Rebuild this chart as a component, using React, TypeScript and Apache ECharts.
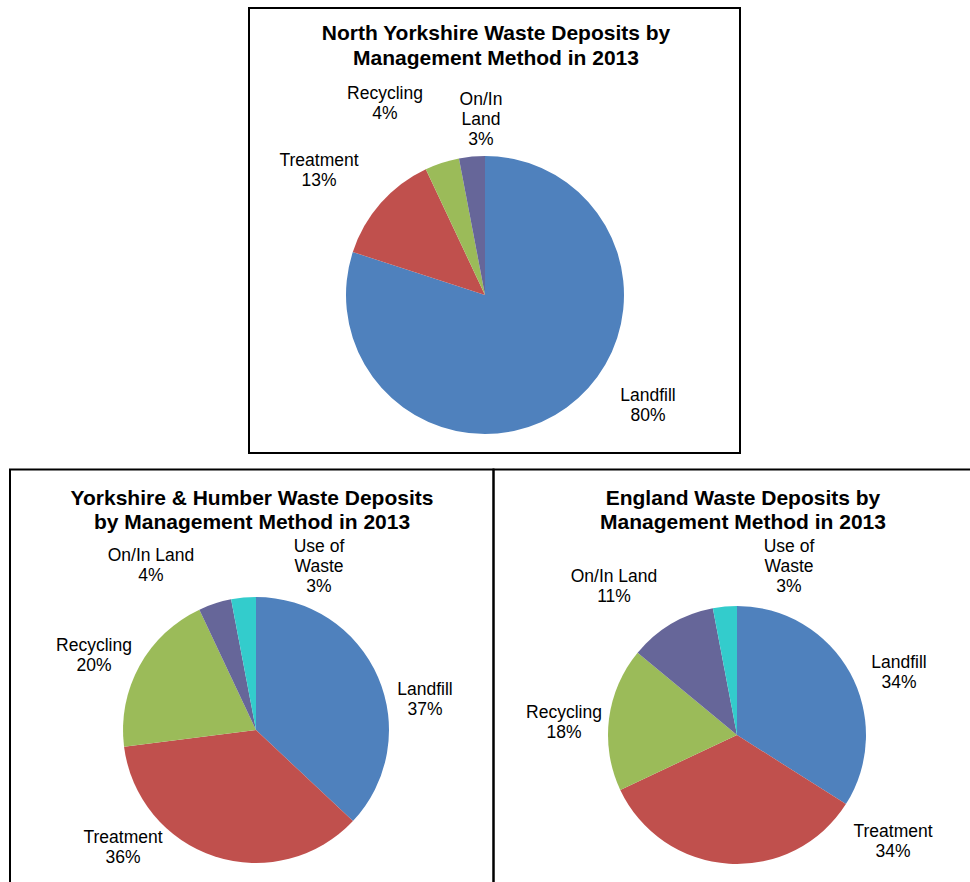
import React, { useEffect, useRef } from "react";
import * as echarts from "echarts";

// ---- Data ----
const northYorkshireCategories = ["Landfill", "Treatment", "Recycling", "On/In Land"];
const northYorkshireValues = [80, 13, 4, 3];

const yorkshireHumberCategories = ["Landfill", "Treatment", "Recycling", "On/In Land", "Use of Waste"];
const yorkshireHumberValues = [37, 36, 20, 4, 3];

const englandCategories = ["Landfill", "Treatment", "Recycling", "On/In Land", "Use of Waste"];
const englandValues = [34, 34, 18, 11, 3];

const titles = [
  "North Yorkshire Waste Deposits by\nManagement Method in 2013",
  "Yorkshire & Humber Waste Deposits\nby Management Method in 2013",
  "England Waste Deposits by\nManagement Method in 2013",
];

// ---- Styles / layout ----
const COLORS: Record<string, string> = {
  Landfill: "#4F81BD",
  Treatment: "#C0504D",
  Recycling: "#9BBB59",
  "On/In Land": "#666699",
  "Use of Waste": "#33CCCC",
};
const FONT = '"Liberation Sans", Arial, Helvetica, sans-serif';

// label line breaks per chart
const WRAP_TOP: Record<string, string> = { "On/In Land": "On/In\nLand" };
const WRAP_BOTTOM: Record<string, string> = { "Use of Waste": "Use of\nWaste" };

// label anchor positions (px, centre of label block)
const LABELS_TOP: Record<string, [number, number]> = {
  Landfill: [648, 405],
  Treatment: [319, 170],
  Recycling: [385, 103],
  "On/In Land": [481, 119],
};
const LABELS_BL: Record<string, [number, number]> = {
  Landfill: [425, 699],
  Treatment: [123, 847],
  Recycling: [94, 655],
  "On/In Land": [151, 565],
  "Use of Waste": [319, 566],
};
const LABELS_BR: Record<string, [number, number]> = {
  Landfill: [899, 672],
  Treatment: [893, 841],
  Recycling: [564, 722],
  "On/In Land": [614, 586],
  "Use of Waste": [789, 566],
};

function makePie(
  cats: string[],
  vals: number[],
  center: [number, number],
  radius: number,
  wrap: Record<string, string>,
  labelPos: Record<string, [number, number]>
) {
  return {
    type: "pie",
    silent: true,
    center,
    radius,
    startAngle: 90,
    clockwise: true,
    avoidLabelOverlap: false,
    data: cats.map((c, i) => ({
      name: c,
      value: vals[i],
      itemStyle: { color: COLORS[c] },
    })),
    itemStyle: { borderWidth: 0 },
    label: {
      show: true,
      position: "outside",
      formatter: (p: any) => `${wrap[p.name] || p.name}\n${p.value}%`,
      fontFamily: FONT,
      fontSize: 17.5,
      lineHeight: 20,
      color: "#000",
      align: "center",
    },
    labelLine: { show: false },
    labelLayout: (p: any) => {
      const name = cats[p.dataIndex];
      const pos = labelPos[name];
      return { x: pos[0], y: pos[1], align: "center", verticalAlign: "middle" };
    },
    emphasis: { disabled: true },
  };
}

export default function App() {
  const ref = useRef<HTMLDivElement>(null);

  useEffect(() => {
    document.body.style.margin = "0";
    const chart = echarts.init(ref.current!, null, { renderer: "svg" });
    const titleStyle = {
      fontFamily: FONT,
      fontSize: 21,
      fontWeight: "bold" as const,
      color: "#000",
      lineHeight: 25,
    };
    chart.setOption({
      animation: false,
      backgroundColor: "#fff",
      title: [
        { text: titles[0], left: 496, top: 20, textAlign: "center", padding: 0, textStyle: { ...titleStyle } },
        { text: titles[1], left: 252, top: 485, textAlign: "center", padding: 0, textStyle: { ...titleStyle, lineHeight: 24 } },
        { text: titles[2], left: 743, top: 485, textAlign: "center", padding: 0, textStyle: { ...titleStyle, lineHeight: 24 } },
      ],
      graphic: [
        { type: "rect", shape: { x: 249, y: 8, width: 491, height: 445 }, style: { fill: "none", stroke: "#000", lineWidth: 2 }, silent: true },
        { type: "rect", shape: { x: 10, y: 469.5, width: 483.5, height: 500 }, style: { fill: "none", stroke: "#000", lineWidth: 2 }, silent: true },
        { type: "rect", shape: { x: 493.5, y: 469.5, width: 520, height: 500 }, style: { fill: "none", stroke: "#000", lineWidth: 2 }, silent: true },
      ],
      series: [
        makePie(northYorkshireCategories, northYorkshireValues, [485, 295], 139, WRAP_TOP, LABELS_TOP),
        makePie(yorkshireHumberCategories, yorkshireHumberValues, [256, 730], 133, WRAP_BOTTOM, LABELS_BL),
        makePie(englandCategories, englandValues, [737, 735], 129, WRAP_BOTTOM, LABELS_BR),
      ],
    });
    return () => chart.dispose();
  }, []);

  return (
    <div
      ref={ref}
      style={{ position: "absolute", left: 0, top: 0, width: 970, height: 882, background: "#fff" }}
    />
  );
}
